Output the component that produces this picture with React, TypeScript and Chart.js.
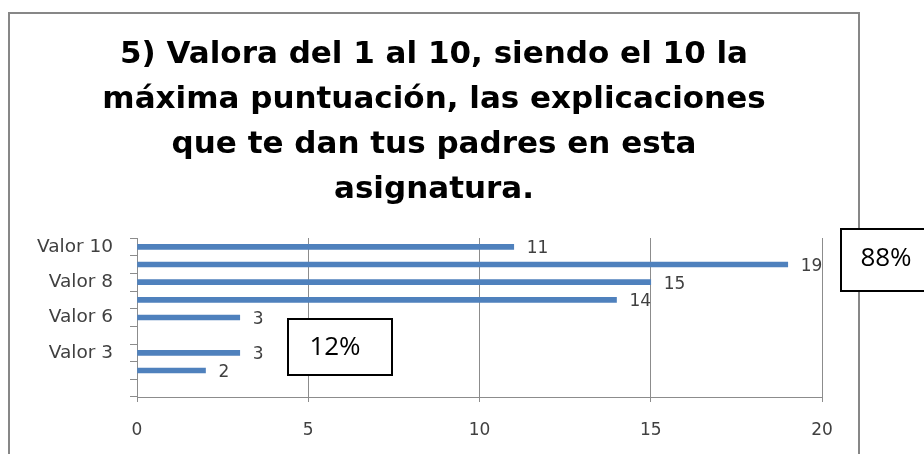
import React, { useEffect, useRef } from "react";
import { Chart, registerables } from "chart.js";

Chart.register(...registerables);

const categories = ["Valor 10", "Valor 9", "Valor 8", "Valor 7", "Valor 6", "Valor 5", "Valor 3", "Valor 2", ""];
const counts: (number | null)[] = [11, 19, 15, 14, 3, null, 3, 2, null];
const tickLabels = ["Valor 10", "", "Valor 8", "", "Valor 6", "", "Valor 3", "", ""];
const xMin = 0;
const xMax = 20;
const xStep = 5;
const titleLines = [
  "5) Valora del 1 al 10, siendo el 10 la",
  "máxima puntuación, las explicaciones",
  "que te dan tus padres en esta",
  "asignatura.",
];
const lowShare = "12%";
const highShare = "88%";

const GRID = "#8c8c8c";
const TEXT = "#404040";
const BAR = "#4F81BD";

const framePlugin = {
  id: "frame",
  beforeDraw(chart: any) {
    const ctx = chart.ctx;
    ctx.save();
    ctx.fillStyle = "#ffffff";
    ctx.fillRect(0, 0, chart.width, chart.height);
    ctx.strokeStyle = "#878787";
    ctx.lineWidth = 2;
    ctx.strokeRect(9, 13, 850, 500);
    ctx.restore();
  },
};

const titleCenterPlugin = {
  id: "titleCenter",
  afterLayout(chart: any) {
    const tb = chart.titleBlock;
    if (tb) {
      tb.left = 9;
      tb.right = 859;
      tb.width = 850;
    }
  },
};

const valueLabelPlugin = {
  id: "valueLabels",
  afterDatasetsDraw(chart: any) {
    const ctx = chart.ctx;
    const meta = chart.getDatasetMeta(0);
    ctx.save();
    ctx.font = "17px 'DejaVu Sans'";
    ctx.fillStyle = TEXT;
    ctx.textAlign = "left";
    ctx.textBaseline = "middle";
    meta.data.forEach((el: any, i: number) => {
      const v = counts[i];
      if (v === null || v === undefined) return;
      ctx.fillText(String(v), el.x + 13, el.y + 2);
    });
    ctx.restore();
  },
};

const boxPlugin = {
  id: "shareBoxes",
  afterDraw(chart: any) {
    const ctx = chart.ctx;
    const drawBox = (x: number, y: number, w: number, h: number, text: string, tx: number, ty: number) => {
      ctx.save();
      ctx.fillStyle = "#ffffff";
      ctx.fillRect(x, y, w, h);
      ctx.strokeStyle = "#000000";
      ctx.lineWidth = 2;
      ctx.strokeRect(x, y, w, h);
      ctx.fillStyle = "#000000";
      ctx.font = "26px 'Open Sans'";
      ctx.textAlign = "center";
      ctx.textBaseline = "middle";
      ctx.fillText(text, tx, ty);
      ctx.restore();
    };
    drawBox(288, 319, 104, 56, lowShare, 335, 348);
    drawBox(841, 229, 100, 62, highShare, 886, 259);
  },
};

export default function App() {
  const ref = useRef<HTMLCanvasElement | null>(null);

  useEffect(() => {
    document.body.style.margin = "0";
    if (!ref.current) return;
    const chart = new Chart(ref.current, {
      type: "bar",
      data: {
        labels: categories,
        datasets: [
          {
            data: counts,
            backgroundColor: BAR,
            borderWidth: 0,
            barThickness: 5,
          },
        ],
      },
      options: {
        indexAxis: "y",
        responsive: false,
        animation: false,
        layout: { padding: { top: 32, left: 0, right: 102, bottom: 0 } },
        plugins: {
          legend: { display: false },
          tooltip: { enabled: false },
          title: {
            display: true,
            text: titleLines,
            color: "#000000",
            font: { family: "'DejaVu Sans'", size: 31, weight: "bold", lineHeight: "45px" },
            padding: { top: 0, bottom: 26 },
          },
        },
        scales: {
          x: {
            type: "linear",
            min: xMin,
            max: xMax,
            ticks: {
              stepSize: xStep,
              color: TEXT,
              font: { family: "'DejaVu Sans'", size: 17 },
              padding: 18,
            },
            grid: { color: GRID, tickLength: 5, drawTicks: true },
            border: { color: GRID, width: 1 },
            afterFit: (scale: any) => {
              scale.height = 57;
            },
          },
          y: {
            type: "category",
            offset: true,
            ticks: {
              autoSkip: false,
              color: TEXT,
              font: { family: "'DejaVu Sans'", size: 18.5 },
              padding: 17,
              callback: (_v: any, i: number) => tickLabels[i],
            },
            grid: { drawOnChartArea: false, drawTicks: true, tickLength: 7, color: GRID, offset: true },
            border: { color: GRID, width: 1 },
            afterFit: (scale: any) => {
              scale.width = 137;
            },
          },
        },
      },
      plugins: [framePlugin, titleCenterPlugin, valueLabelPlugin, boxPlugin],
    } as any);
    return () => chart.destroy();
  }, []);

  return (
    <div style={{ width: 924, height: 454 }}>
      <canvas ref={ref} width={924} height={454} style={{ width: 924, height: 454, display: "block" }} />
    </div>
  );
}
